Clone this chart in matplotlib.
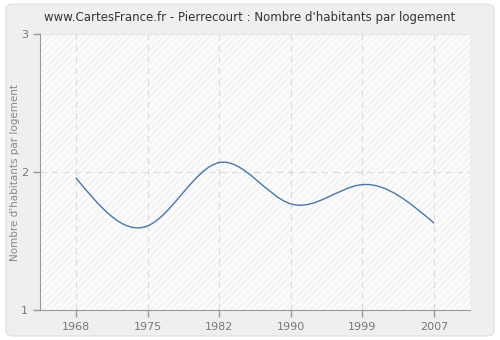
import numpy as np
import matplotlib
matplotlib.use("Agg")
import matplotlib.pyplot as plt
from matplotlib.path import Path
from matplotlib.patches import PathPatch, FancyBboxPatch, Rectangle

# ── Data ──────────────────────────────────────────────────────────────────────
years = ["1968", "1975", "1982", "1990", "1999", "2007"]
habitants_par_logement = [1.96, 1.61, 2.07, 1.77, 1.91, 1.63]
y_ticks = [1, 2, 3]

LINE = "#4a76aa"
GRID = "#dddddd"
AXIS = "#999999"
TEXT = "#777777"

plt.rcParams["hatch.linewidth"] = 0.6


def _spline_path(x, y):
    # natural cubic spline drawn as bezier segments
    x = np.asarray(x, float); y = np.asarray(y, float)
    n = len(x)
    h = np.diff(x)
    A = np.zeros((n, n)); b = np.zeros(n)
    A[0, 0] = A[-1, -1] = 1
    for i in range(1, n - 1):
        A[i, i - 1] = h[i - 1]
        A[i, i] = 2 * (h[i - 1] + h[i])
        A[i, i + 1] = h[i]
        b[i] = 6 * ((y[i + 1] - y[i]) / h[i] - (y[i] - y[i - 1]) / h[i - 1])
    m = np.linalg.solve(A, b)
    d = np.zeros(n)
    for i in range(n - 1):
        d[i] = (y[i + 1] - y[i]) / h[i] - h[i] * (2 * m[i] + m[i + 1]) / 6
    d[-1] = (y[-1] - y[-2]) / h[-1] + h[-1] * (m[-2] + 2 * m[-1]) / 6
    verts = [(x[0], y[0])]
    codes = [Path.MOVETO]
    for i in range(n - 1):
        verts += [(x[i] + h[i] / 3, y[i] + h[i] / 3 * d[i]),
                  (x[i + 1] - h[i] / 3, y[i + 1] - h[i] / 3 * d[i + 1]),
                  (x[i + 1], y[i + 1])]
        codes += [Path.CURVE4] * 3
    return Path(verts, codes)


fig = plt.figure(figsize=(5, 3.4), dpi=100)
fig.patch.set_facecolor("white")
fig.patches.append(FancyBboxPatch((0.012, 0.012), 0.976, 0.976,
                                  boxstyle="round,pad=0,rounding_size=0.015",
                                  transform=fig.transFigure, facecolor="#efefef",
                                  edgecolor="#e2e2e2", linewidth=1, zorder=-5))

ax = fig.add_axes([0.08, 0.088, 0.86, 0.811])
ax.set_facecolor("#fbfbfb")
xpos = np.arange(len(years))
ax.set_xlim(-0.5, len(years) - 0.5)
ax.set_ylim(1, 3)

ax.add_patch(Rectangle((0, 0), 1, 1, transform=ax.transAxes, facecolor="none",
                       edgecolor="#ebebeb", hatch="/////", linewidth=0, zorder=0))

for xp in xpos:
    ax.axvline(xp, color=GRID, linestyle=(0, (5, 4)), linewidth=0.9, zorder=1)
ax.axhline(2, color=GRID, linestyle=(0, (5, 4)), linewidth=0.9, zorder=1)
ax.axhline(3, color="#e8e8e8", linewidth=0.9, zorder=1)

ax.add_patch(PathPatch(_spline_path(xpos, habitants_par_logement), facecolor="none",
                       edgecolor=LINE, linewidth=1, zorder=3))

ax.set_xticks(xpos)
ax.set_xticklabels(years)
ax.set_yticks(y_ticks)
ax.tick_params(colors=AXIS, labelcolor=TEXT, labelsize=8, length=5, width=1)
for s in ("top", "right"):
    ax.spines[s].set_visible(False)
for s in ("left", "bottom"):
    ax.spines[s].set_color(AXIS)
ax.set_ylabel("Nombre d'habitants par logement", fontsize=7.5, color="#888888", labelpad=1)
fig.text(0.5, 0.948, "www.CartesFrance.fr - Pierrecourt : Nombre d'habitants par logement",
         ha="center", va="center", fontsize=8.5, color="#333333")

plt.savefig("out.png", dpi=100)
plt.close()
